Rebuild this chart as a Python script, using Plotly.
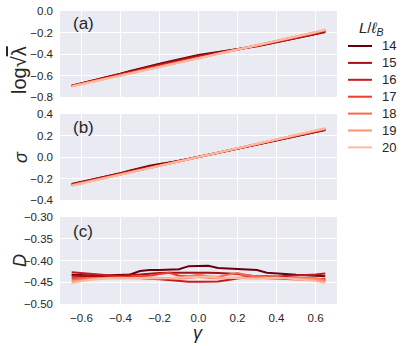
import plotly.graph_objects as go

W, H = 407, 346

gamma = [-0.65, -0.60, -0.55, -0.50, -0.45, -0.40, -0.35, -0.30, -0.25, -0.20, -0.15, -0.10, -0.05,
         0.00, 0.05, 0.10, 0.15, 0.20, 0.25, 0.30, 0.35, 0.40, 0.45, 0.50, 0.55, 0.60, 0.65]

sizes = ["14", "15", "16", "17", "18", "19", "20"]
colors = ["#67000d", "#a50f15", "#cb181d", "#ef3b2c", "#fb6a4a", "#fc9272", "#fcbba1"]

# panel (a): log sqrt(lambda)
loglam = {
    "14": [-0.695, -0.674, -0.652, -0.630, -0.608, -0.584, -0.558, -0.534, -0.512, -0.490, -0.470, -0.449, -0.428,
           -0.410, -0.395, -0.382, -0.370, -0.358, -0.344, -0.328, -0.310, -0.292, -0.274, -0.255, -0.237, -0.218, -0.195],
    "15": [-0.696, -0.675, -0.654, -0.632, -0.611, -0.588, -0.563, -0.540, -0.519, -0.497, -0.477, -0.457, -0.436,
           -0.417, -0.401, -0.386, -0.372, -0.358, -0.343, -0.326, -0.308, -0.289, -0.271, -0.251, -0.233, -0.214, -0.190],
    "16": [-0.697, -0.677, -0.656, -0.635, -0.614, -0.592, -0.569, -0.547, -0.526, -0.505, -0.485, -0.464, -0.444,
           -0.425, -0.407, -0.391, -0.375, -0.359, -0.342, -0.324, -0.305, -0.286, -0.267, -0.248, -0.229, -0.209, -0.185],
    "17": [-0.698, -0.678, -0.658, -0.637, -0.616, -0.595, -0.573, -0.552, -0.532, -0.511, -0.491, -0.471, -0.450,
           -0.431, -0.412, -0.395, -0.377, -0.360, -0.341, -0.322, -0.302, -0.283, -0.264, -0.244, -0.225, -0.205, -0.181],
    "18": [-0.699, -0.679, -0.659, -0.638, -0.618, -0.597, -0.576, -0.556, -0.536, -0.515, -0.495, -0.475, -0.455,
           -0.435, -0.416, -0.397, -0.378, -0.359, -0.340, -0.321, -0.301, -0.281, -0.261, -0.241, -0.221, -0.201, -0.178],
    "19": [-0.700, -0.680, -0.660, -0.640, -0.619, -0.599, -0.578, -0.558, -0.538, -0.518, -0.498, -0.478, -0.458,
           -0.438, -0.418, -0.398, -0.378, -0.358, -0.339, -0.319, -0.299, -0.279, -0.259, -0.239, -0.219, -0.199, -0.176],
    "20": [-0.702, -0.681, -0.661, -0.641, -0.621, -0.601, -0.580, -0.560, -0.540, -0.520, -0.500, -0.480, -0.460,
           -0.440, -0.420, -0.400, -0.380, -0.360, -0.339, -0.318, -0.298, -0.278, -0.258, -0.238, -0.218, -0.197, -0.172],
}

# panel (b): sigma
sigma = {
    "14": [-0.252, -0.232, -0.212, -0.193, -0.174, -0.150, -0.125, -0.100, -0.082, -0.066, -0.054, -0.038, -0.019,
           0.000, 0.019, 0.038, 0.057, 0.076, 0.095, 0.114, 0.133, 0.152, 0.172, 0.192, 0.212, 0.232, 0.252],
    "15": [-0.255, -0.235, -0.215, -0.196, -0.176, -0.154, -0.131, -0.108, -0.090, -0.073, -0.057, -0.039, -0.019,
           0.000, 0.019, 0.039, 0.058, 0.078, 0.097, 0.116, 0.136, 0.156, 0.175, 0.195, 0.215, 0.234, 0.254],
    "16": [-0.258, -0.238, -0.218, -0.198, -0.178, -0.158, -0.139, -0.119, -0.099, -0.079, -0.059, -0.040, -0.020,
           0.000, 0.020, 0.040, 0.059, 0.079, 0.099, 0.119, 0.138, 0.158, 0.178, 0.198, 0.218, 0.238, 0.257],
    "17": [-0.260, -0.240, -0.220, -0.200, -0.180, -0.160, -0.140, -0.120, -0.100, -0.080, -0.060, -0.040, -0.020,
           0.000, 0.020, 0.040, 0.060, 0.080, 0.100, 0.120, 0.140, 0.160, 0.180, 0.200, 0.220, 0.240, 0.260],
    "18": [-0.262, -0.242, -0.222, -0.202, -0.181, -0.161, -0.141, -0.121, -0.101, -0.081, -0.061, -0.040, -0.020,
           0.000, 0.020, 0.040, 0.061, 0.081, 0.101, 0.121, 0.142, 0.162, 0.182, 0.202, 0.222, 0.243, 0.263],
    "19": [-0.264, -0.244, -0.224, -0.203, -0.183, -0.163, -0.142, -0.122, -0.102, -0.081, -0.061, -0.041, -0.020,
           0.000, 0.020, 0.041, 0.061, 0.082, 0.102, 0.122, 0.143, 0.163, 0.183, 0.204, 0.224, 0.244, 0.265],
    "20": [-0.267, -0.246, -0.226, -0.205, -0.185, -0.164, -0.144, -0.123, -0.103, -0.082, -0.062, -0.041, -0.021,
           0.000, 0.021, 0.041, 0.062, 0.082, 0.103, 0.123, 0.144, 0.164, 0.185, 0.205, 0.226, 0.246, 0.268],
}

# panel (c): D
dval = {
    "14": [-0.433, -0.434, -0.435, -0.435, -0.434, -0.433, -0.432, -0.424, -0.422, -0.422, -0.421, -0.420, -0.413,
           -0.412, -0.412, -0.417, -0.418, -0.419, -0.420, -0.422, -0.428, -0.430, -0.431, -0.433, -0.434, -0.435, -0.436],
    "15": [-0.435, -0.436, -0.437, -0.437, -0.436, -0.434, -0.433, -0.432, -0.430, -0.429, -0.428, -0.428, -0.428,
           -0.427, -0.428, -0.429, -0.430, -0.431, -0.434, -0.437, -0.438, -0.439, -0.440, -0.441, -0.442, -0.443, -0.443],
    "16": [-0.427, -0.429, -0.431, -0.433, -0.435, -0.437, -0.438, -0.440, -0.442, -0.443, -0.445, -0.448, -0.449,
           -0.449, -0.449, -0.448, -0.445, -0.441, -0.438, -0.437, -0.436, -0.437, -0.436, -0.435, -0.433, -0.432, -0.430],
    "17": [-0.440, -0.441, -0.441, -0.440, -0.440, -0.439, -0.438, -0.437, -0.435, -0.431, -0.428, -0.435, -0.437,
           -0.436, -0.438, -0.440, -0.441, -0.440, -0.439, -0.439, -0.441, -0.442, -0.443, -0.444, -0.445, -0.445, -0.446],
    "18": [-0.444, -0.442, -0.441, -0.440, -0.439, -0.439, -0.440, -0.441, -0.442, -0.442, -0.441, -0.440, -0.437,
           -0.433, -0.436, -0.438, -0.433, -0.429, -0.434, -0.437, -0.438, -0.440, -0.441, -0.441, -0.440, -0.441, -0.444],
    "19": [-0.448, -0.445, -0.443, -0.441, -0.440, -0.441, -0.441, -0.440, -0.439, -0.440, -0.441, -0.442, -0.440,
           -0.438, -0.440, -0.441, -0.440, -0.439, -0.440, -0.441, -0.440, -0.439, -0.440, -0.441, -0.442, -0.443, -0.448],
    "20": [-0.452, -0.447, -0.444, -0.442, -0.441, -0.441, -0.440, -0.440, -0.441, -0.441, -0.440, -0.439, -0.438,
           -0.437, -0.437, -0.439, -0.440, -0.441, -0.441, -0.442, -0.441, -0.440, -0.441, -0.443, -0.445, -0.447, -0.452],
}

x_ticks = [-0.6, -0.4, -0.2, 0.0, 0.2, 0.4, 0.6]

FONT = "Liberation Sans, Arial, sans-serif"
TXT = "#262626"
BG = "#eaeaf2"


def px_x(p):
    return p / W


def px_y(p):
    return 1 - p / H


fig = go.Figure()

panels = [(loglam, "y"), (sigma, "y2"), (dval, "y3")]
for data, yax in panels:
    for s, c in zip(sizes, colors):
        fig.add_trace(go.Scatter(
            x=gamma, y=data[s], mode="lines", name=s, yaxis=yax, xaxis="x" if yax == "y" else "x" + yax[1:],
            line=dict(color=c, width=2), showlegend=False,
        ))

xdom = [px_x(60), px_x(337)]
common_x = dict(domain=xdom, range=[-0.71, 0.71], tickvals=x_ticks, tickformat=".1f", showgrid=True,
                gridcolor="white", gridwidth=1.3, zeroline=False, showline=False, ticks="", automargin=False,
                ticklabelstandoff=5, tickfont=dict(family=FONT, size=11.5, color=TXT))
common_y = dict(showgrid=True, gridcolor="white", gridwidth=1.3, zeroline=False, showline=False, ticks="",
                automargin=False, ticklabelstandoff=6, tickfont=dict(family=FONT, size=11.5, color=TXT))

fig.update_layout(
    width=W, height=H,
    margin=dict(l=0, r=0, t=0, b=0),
    paper_bgcolor="white", plot_bgcolor=BG,
    font=dict(family=FONT, color=TXT),
    showlegend=False,
    xaxis=dict(common_x, anchor="y", showticklabels=False),
    xaxis2=dict(common_x, anchor="y2", showticklabels=False, matches="x"),
    xaxis3=dict(common_x, anchor="y3", showticklabels=True, matches="x"),
    yaxis=dict(common_y, domain=[px_y(97), px_y(11)], range=[-0.8, 0.0], tickvals=[-0.8, -0.6, -0.4, -0.2, 0.0],
               tickformat=".1f"),
    yaxis2=dict(common_y, domain=[px_y(200), px_y(114)], range=[-0.4, 0.4], tickvals=[-0.4, -0.2, 0.0, 0.2, 0.4],
                tickformat=".1f", anchor="x2"),
    yaxis3=dict(common_y, domain=[px_y(304), px_y(217)], range=[-0.5, -0.3],
                tickvals=[-0.5, -0.45, -0.4, -0.35, -0.3], tickformat=".2f", anchor="x3"),
)

# legend drawn by hand to match the compact spacing
fig.add_annotation(text="<i>L</i>/<i>ℓ<sub>B</sub></i>", x=px_x(357), y=px_y(29), xref="paper", yref="paper",
                   xanchor="left", yanchor="middle", showarrow=False,
                   font=dict(family=FONT, size=15, color=TXT))
for i, (s, c) in enumerate(zip(sizes, colors)):
    yp = 46 + i * 16.9
    fig.add_shape(type="line", xref="paper", yref="paper", x0=px_x(348), x1=px_x(372), y0=px_y(yp), y1=px_y(yp),
                  line=dict(color=c, width=2))
    fig.add_annotation(text=s, x=px_x(380), y=px_y(yp), xref="paper", yref="paper", xanchor="left",
                       yanchor="middle", showarrow=False, font=dict(family=FONT, size=13, color=TXT))

# panel labels and axis titles
for lab, ypix in [("(a)", 24), ("(b)", 127), ("(c)", 231)]:
    fig.add_annotation(text=lab, x=px_x(71), y=px_y(ypix), xref="paper", yref="paper", xanchor="left",
                       yanchor="middle", showarrow=False, font=dict(family=FONT, size=17, color=TXT))

ytitles = [("log√<span style='text-decoration:overline'>λ</span>", 19, 70, 20),
           ("<i>σ</i>", 21, 157, 18), ("<i>D</i>", 20, 261, 18)]
for t, xp, yp, fs in ytitles:
    fig.add_annotation(text=t, x=px_x(xp), y=px_y(yp), xref="paper", yref="paper", textangle=-90,
                       xanchor="center", yanchor="middle",
                       showarrow=False, font=dict(family=FONT, size=fs, color=TXT))

fig.add_annotation(text="<i>γ</i>", x=px_x(198), y=px_y(333), xref="paper", yref="paper", showarrow=False,
                   xanchor="center", yanchor="middle", font=dict(family=FONT, size=18, color=TXT))

fig.write_html("out.html", config={"displayModeBar": False},
               post_script="document.body.style.margin='0';")
